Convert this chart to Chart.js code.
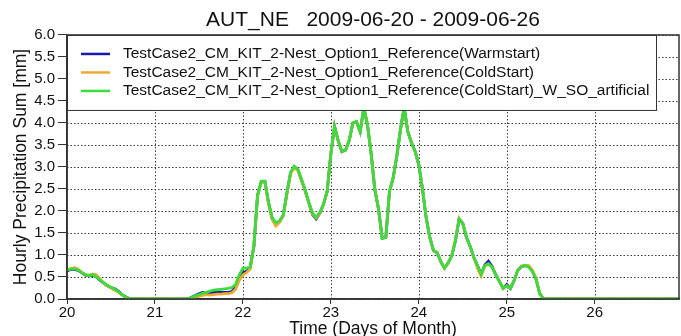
<!DOCTYPE html>
<html>
<head>
<meta charset="utf-8">
<script src="https://cdn.jsdelivr.net/npm/chart.js@4.4.1/dist/chart.umd.min.js"></script>
<style>
  html, body { margin: 0; padding: 0; background: #fff; }
  #wrap { width: 681px; height: 336px; }
</style>
</head>
<body>
<div id="wrap"><canvas id="chart" width="681" height="336"></canvas></div>
<script>
// Hourly precipitation sums, 2009-06-20 00h .. 2009-06-26 23h
const titleText = 'AUT_NE   2009-06-20 - 2009-06-26'
const seriesNames = [
  'TestCase2_CM_KIT_2-Nest_Option1_Reference(Warmstart)',
  'TestCase2_CM_KIT_2-Nest_Option1_Reference(ColdStart)',
  'TestCase2_CM_KIT_2-Nest_Option1_Reference(ColdStart)_W_SO_artificial'
]
const seriesColors = ['#1818b4', '#f0aa32', '#3cdc3c']
const startDay = 20
const stepsPerDay = 24
const dayTicks = [20, 21, 22, 23, 24, 25, 26]
const yTicks = [0, 0.5, 1, 1.5, 2, 2.5, 3, 3.5, 4, 4.5, 5, 5.5, 6]

const warmstart = [
  0.64, 0.67, 0.68, 0.65, 0.6, 0.54, 0.53, 0.54, 0.5, 0.43, 0.36, 0.3, 0.26, 0.23, 0.18, 0.1, 0.05, 0.01, 0, 0, 0, 0, 0, 0,
  0, 0, 0, 0, 0, 0, 0, 0, 0, 0, 0.04, 0.08, 0.12, 0.15, 0.13, 0.14, 0.15, 0.16, 0.15, 0.15, 0.15, 0.17, 0.27, 0.5,
  0.6, 0.63, 0.72, 1.2, 2.35, 2.66, 2.67, 2.18, 1.82, 1.68, 1.76, 1.9, 2.4, 2.86, 3.0, 2.93, 2.7, 2.46, 2.18, 1.92, 1.82, 1.95, 2.15, 2.45,
  3.3, 3.92, 3.6, 3.35, 3.38, 3.6, 4.0, 4.03, 3.8, 4.35, 3.95, 3.3, 2.48, 2.05, 1.38, 1.4, 2.45, 2.75, 3.25, 3.85, 4.35, 3.8, 3.55, 3.35,
  3.05, 2.5, 1.85, 1.4, 1.1, 1.05, 0.85, 0.7, 0.82, 0.98, 1.33, 1.82, 1.72, 1.4, 1.2, 0.95, 0.76, 0.56, 0.77, 0.86, 0.74, 0.55, 0.4, 0.24,
  0.33, 0.24, 0.42, 0.65, 0.74, 0.76, 0.74, 0.63, 0.45, 0.12, 0.01, 0, 0, 0, 0.01, 0.01, 0, 0, 0, 0, 0, 0, 0, 0,
  0, 0, 0, 0, 0, 0, 0, 0, 0, 0, 0, 0, 0, 0, 0, 0, 0, 0, 0, 0, 0, 0, 0, 0
]
const coldstart = [
  0.66, 0.69, 0.71, 0.68, 0.6, 0.56, 0.53, 0.57, 0.55, 0.46, 0.36, 0.3, 0.25, 0.2, 0.16, 0.09, 0.04, 0.01, 0, 0, 0, 0, 0, 0,
  0, 0, 0, 0, 0, 0, 0, 0, 0, 0, 0.02, 0.04, 0.06, 0.08, 0.1, 0.09, 0.1, 0.11, 0.11, 0.12, 0.12, 0.14, 0.22, 0.42,
  0.55, 0.6, 0.68, 1.2, 2.33, 2.66, 2.66, 2.15, 1.8, 1.66, 1.74, 1.88, 2.38, 2.85, 2.98, 2.92, 2.7, 2.45, 2.18, 1.93, 1.84, 1.95, 2.15, 2.45,
  3.3, 3.92, 3.6, 3.35, 3.38, 3.6, 4.0, 4.03, 3.8, 4.35, 3.95, 3.3, 2.48, 2.05, 1.38, 1.4, 2.45, 2.75, 3.25, 3.85, 4.35, 3.8, 3.55, 3.35,
  3.05, 2.5, 1.85, 1.4, 1.1, 1.05, 0.85, 0.7, 0.82, 0.98, 1.35, 1.84, 1.72, 1.4, 1.2, 0.95, 0.7, 0.52, 0.74, 0.8, 0.72, 0.55, 0.4, 0.24,
  0.3, 0.24, 0.42, 0.65, 0.75, 0.77, 0.76, 0.66, 0.47, 0.12, 0.01, 0, 0, 0, 0.01, 0.01, 0, 0, 0, 0, 0, 0, 0, 0,
  0, 0, 0, 0, 0, 0, 0, 0, 0, 0, 0, 0, 0, 0, 0, 0, 0, 0, 0, 0, 0, 0, 0, 0
]
const coldstartArtificial = [
  0.66, 0.68, 0.69, 0.66, 0.6, 0.55, 0.54, 0.55, 0.5, 0.44, 0.37, 0.31, 0.27, 0.22, 0.17, 0.1, 0.05, 0.01, 0, 0, 0, 0, 0, 0,
  0, 0, 0, 0, 0, 0, 0, 0, 0, 0, 0.04, 0.07, 0.1, 0.13, 0.15, 0.18, 0.2, 0.21, 0.22, 0.23, 0.24, 0.26, 0.33, 0.55,
  0.7, 0.7, 0.72, 1.2, 2.37, 2.68, 2.68, 2.2, 1.85, 1.73, 1.78, 1.9, 2.4, 2.88, 3.02, 2.95, 2.72, 2.48, 2.2, 1.95, 1.86, 1.97, 2.15, 2.45,
  3.3, 3.92, 3.6, 3.35, 3.38, 3.6, 4.0, 4.03, 3.8, 4.35, 3.95, 3.3, 2.48, 2.05, 1.38, 1.4, 2.45, 2.75, 3.25, 3.85, 4.35, 3.8, 3.55, 3.35,
  3.05, 2.5, 1.85, 1.4, 1.1, 1.05, 0.85, 0.7, 0.82, 0.98, 1.33, 1.82, 1.72, 1.4, 1.2, 0.95, 0.76, 0.56, 0.76, 0.8, 0.72, 0.55, 0.4, 0.24,
  0.3, 0.24, 0.42, 0.65, 0.74, 0.76, 0.73, 0.62, 0.45, 0.12, 0.01, 0, 0, 0, 0.01, 0.01, 0, 0, 0, 0, 0, 0, 0, 0,
  0, 0, 0, 0, 0, 0, 0, 0, 0, 0, 0, 0, 0, 0, 0, 0, 0, 0, 0, 0, 0, 0, 0, 0
]

const fontFamily = '"Liberation Sans", Arial, Helvetica, sans-serif'

// turn an hourly array into {x: day-of-month, y: value} points
function toPoints(values) {
  return values.map((v, i) => ({ x: startDay + i / stepsPerDay, y: v }))
}

// Dotted grid drawn from the scales' own tick positions
const dottedGrid = {
  id: 'dottedGrid',
  beforeDatasetsDraw(chart) {
    const { ctx, chartArea, scales } = chart
    ctx.save()
    ctx.strokeStyle = '#3a3a3a'
    ctx.lineWidth = 1
    ctx.setLineDash([1.5, 2])
    scales.x.ticks.forEach(t => {
      const px = Math.round(scales.x.getPixelForValue(t.value)) + 0.5
      ctx.beginPath()
      ctx.moveTo(px, chartArea.top)
      ctx.lineTo(px, chartArea.bottom)
      ctx.stroke()
    })
    scales.y.ticks.forEach(t => {
      const py = Math.round(scales.y.getPixelForValue(t.value)) + 0.5
      ctx.beginPath()
      ctx.moveTo(chartArea.left, py)
      ctx.lineTo(chartArea.right, py)
      ctx.stroke()
    })
    ctx.restore()
  }
}

// Legend sits inside the plot, in a white box over the top-left corner
const insideLegend = {
  id: 'insideLegend',
  afterDatasetsDraw(chart) {
    const { ctx, chartArea } = chart
    const x = chartArea.left
    const y = chartArea.top
    const w = 589
    const h = 75
    ctx.save()
    ctx.fillStyle = '#fff'
    ctx.fillRect(x, y, w, h)
    ctx.strokeStyle = '#333'
    ctx.lineWidth = 1
    ctx.strokeRect(x + 0.5, y + 0.5, w, h)
    ctx.font = '15.5px ' + fontFamily
    ctx.textBaseline = 'middle'
    chart.data.datasets.forEach((ds, i) => {
      const rowY = y + 19 + i * 18.5
      ctx.strokeStyle = ds.borderColor
      ctx.lineWidth = 2.5
      ctx.beginPath()
      ctx.moveTo(x + 14, rowY)
      ctx.lineTo(x + 43, rowY)
      ctx.stroke()
      ctx.fillStyle = '#111'
      ctx.fillText(ds.label, x + 56, rowY)
    })
    ctx.restore()
  }
}

// Closed frame round the plot area
const plotFrame = {
  id: 'plotFrame',
  afterDraw(chart) {
    const { ctx, chartArea } = chart
    ctx.save()
    ctx.strokeStyle = '#333'
    ctx.lineWidth = 1.5
    ctx.strokeRect(chartArea.left, chartArea.top, chartArea.right - chartArea.left, chartArea.bottom - chartArea.top)
    ctx.restore()
  }
}

const seriesValues = [warmstart, coldstart, coldstartArtificial]
const datasets = seriesValues.map((values, i) => ({
  label: seriesNames[i],
  data: toPoints(values),
  borderColor: seriesColors[i],
  backgroundColor: seriesColors[i],
  borderWidth: 2.8,
  pointRadius: 0,
  tension: 0,
  order: seriesValues.length - i
}))

new Chart(document.getElementById('chart'), {
  type: 'line',
  data: { datasets },
  options: {
    responsive: false,
    animation: false,
    devicePixelRatio: 1,
    layout: { padding: { left: 0, right: 2, top: 0, bottom: 0 } },
    plugins: {
      legend: { display: false },
      tooltip: { enabled: false },
      title: {
        display: true,
        text: titleText,
        fullSize: false,
        color: '#111',
        font: { family: fontFamily, size: 21, weight: 'normal', lineHeight: 1.15 },
        padding: { top: 8, bottom: 2.8 }
      }
    },
    scales: {
      x: {
        type: 'linear',
        min: startDay,
        max: startDay + (warmstart.length - 1) / stepsPerDay,
        afterFit(scale) { scale.height = 37 },
        afterBuildTicks(scale) { scale.ticks = dayTicks.map(v => ({ value: v })) },
        ticks: {
          color: '#111',
          padding: 0,
          maxRotation: 0,
          font: { family: fontFamily, size: 15 },
          callback: v => String(v)
        },
        grid: { drawOnChartArea: false, tickLength: 5, tickColor: '#333', lineWidth: 1 },
        border: { display: true, color: '#333', width: 1.5 },
        title: {
          display: true,
          text: 'Time (Days of Month)',
          color: '#111',
          font: { family: fontFamily, size: 17.5, lineHeight: 1 },
          padding: { top: 0, bottom: -2 }
        }
      },
      y: {
        min: 0,
        max: 6,
        afterFit(scale) { scale.width = 67 },
        afterBuildTicks(scale) { scale.ticks = yTicks.map(v => ({ value: v })) },
        ticks: {
          color: '#111',
          padding: 3,
          font: { family: fontFamily, size: 15 },
          callback: v => v.toFixed(1)
        },
        grid: { drawOnChartArea: false, tickLength: 9, tickColor: '#333', lineWidth: 1 },
        border: { display: true, color: '#333', width: 1.5 },
        title: {
          display: true,
          text: 'Hourly Precipitation Sum [mm]',
          color: '#111',
          font: { family: fontFamily, size: 17.5, lineHeight: 1 },
          padding: { top: 12, bottom: 0 }
        }
      }
    }
  },
  plugins: [dottedGrid, insideLegend, plotFrame]
})
</script>
</body>
</html>
